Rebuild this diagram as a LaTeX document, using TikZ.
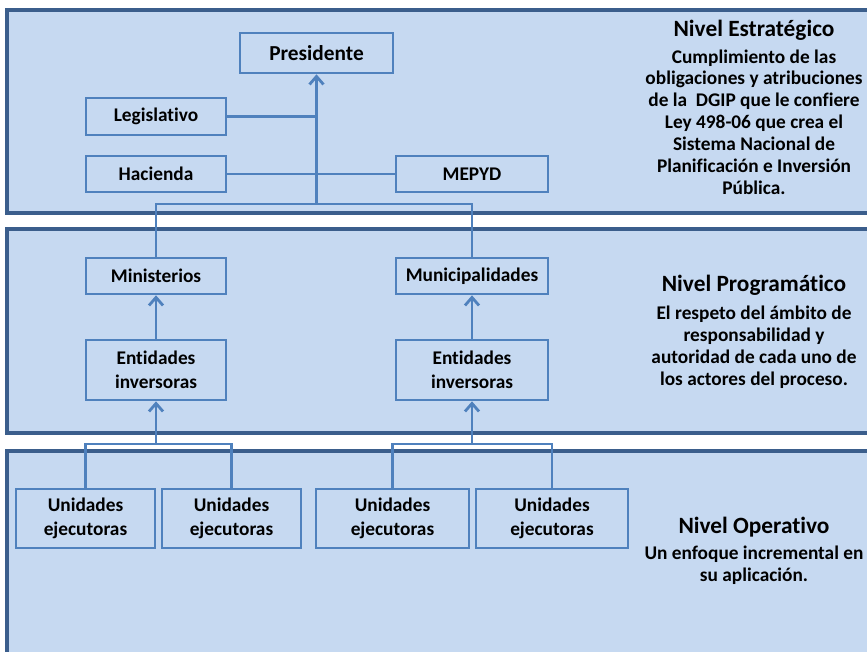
\documentclass[tikz,border=0pt]{standalone}
\usepackage{fontspec}
\setmainfont{Carlito}[Ligatures={NoCommon}]
\usetikzlibrary{arrows.meta}
\definecolor{bandfill}{HTML}{C6D9F1}
\definecolor{bandline}{HTML}{3B5E8C}
\definecolor{boxline}{HTML}{4F81BD}
\tikzset{
  band/.style={fill=bandfill, draw=bandline, line width=2.6pt},
  ubox/.style={draw=boxline, fill=bandfill, line width=2pt, inner sep=0pt, align=center,
    font=\bfseries\fontsize{14.5}{18}\selectfont},
  conn/.style={draw=boxline, line width=2.1pt},
  arr/.style={-{Straight Barb[length=6pt,width=10.5pt]}},
  ttl/.style={inner sep=0pt, align=center, font=\bfseries\fontsize{17.5}{20}\selectfont},
  bdy/.style={inner sep=0pt, align=center, font=\bfseries\fontsize{14.5}{16.4}\selectfont},
}
\begin{document}
\begin{tikzpicture}[x=0.75pt,y=-0.75pt]
\useasboundingbox (0,0) rectangle (867,652);
\clip (0,0) rectangle (867,652);
\fill[white] (0,0) rectangle (867,652);
% bands
\draw[band] (7,10) rectangle (890,213);
\draw[band] (7,229) rectangle (890,433);
\draw[band] (7,451) rectangle (890,680);
% level 1 boxes
\node[ubox, font=\bfseries\fontsize{16}{18}\selectfont, minimum width=153*0.75pt, minimum height=40*0.75pt] (pres) at (316.5,53) {Presidente};
\node[ubox, minimum width=140*0.75pt, minimum height=37*0.75pt] (leg) at (156,116.5) {Legislativo};
\node[ubox, minimum width=140*0.75pt, minimum height=36*0.75pt] (hac) at (156,174) {Hacienda};
\node[ubox, minimum width=152*0.75pt, minimum height=36*0.75pt] (mep) at (472,174) {MEPYD};
% level 2 boxes
\node[ubox, minimum width=140*0.75pt, minimum height=36*0.75pt] (min) at (156,276) {Ministerios};
\node[ubox, minimum width=152*0.75pt, minimum height=36*0.75pt] (mun) at (472,276) {Municipalidades};
\node[ubox, minimum width=140*0.75pt, minimum height=60*0.75pt] (entl) at (156,370) {Entidades\\inversoras};
\node[ubox, minimum width=152*0.75pt, minimum height=60*0.75pt] (entr) at (472,370) {Entidades\\inversoras};
% level 3 boxes
\node[ubox, minimum width=139*0.75pt, minimum height=59*0.75pt] (u1) at (85.5,518.5) {Unidades\\ejecutoras};
\node[ubox, minimum width=139*0.75pt, minimum height=59*0.75pt] (u2) at (231.5,518.5) {Unidades\\ejecutoras};
\node[ubox, minimum width=153*0.75pt, minimum height=59*0.75pt] (u3) at (392.5,518.5) {Unidades\\ejecutoras};
\node[ubox, minimum width=152*0.75pt, minimum height=59*0.75pt] (u4) at (552,518.5) {Unidades\\ejecutoras};
% junction coordinates
\coordinate (jtop) at (316.5,204);
\coordinate (jl) at (156,444);
\coordinate (jr) at (472,444);
% connectors level 1
\draw[conn] (leg.east) -- (leg.east -| pres.south);
\draw[conn] (hac.east) -- (mep.west);
\draw[conn] (min.north) -- (min.north |- jtop) -- (mun.north |- jtop) -- (mun.north);
\draw[conn, arr] (pres.south |- jtop) -- (pres.south);
% connectors level 2
\draw[conn, arr] (entl.north) -- (min.south);
\draw[conn, arr] (entr.north) -- (mun.south);
\draw[conn] (u1.north) -- (u1.north |- jl) -- (u2.north |- jl) -- (u2.north);
\draw[conn] (u3.north) -- (u3.north |- jr) -- (u4.north |- jr) -- (u4.north);
\draw[conn, arr] (entl.south |- jl) -- (entl.south);
\draw[conn, arr] (entr.south |- jr) -- (entr.south);
% right-hand texts
\node[ttl] (t1) at (754,30) {Nivel Estratégico};
\node[bdy] (b1) at (754,122) {Cumplimiento de las\\obligaciones y atribuciones\\de la\ \ DGIP que le confiere\\Ley 498-06 que crea el\\Sistema Nacional de\\Planificación e Inversión\\Pública.};
\node[ttl] (t2) at (754,285) {Nivel Programático};
\node[bdy] (b2) at (754,347) {El respeto del ámbito de\\responsabilidad y\\autoridad de cada uno de\\los actores del proceso.};
\node[ttl] (t3) at (754,527) {Nivel Operativo};
\node[bdy] (b3) at (754,565) {Un enfoque incremental en\\su aplicación.};
\end{tikzpicture}
\end{document}
